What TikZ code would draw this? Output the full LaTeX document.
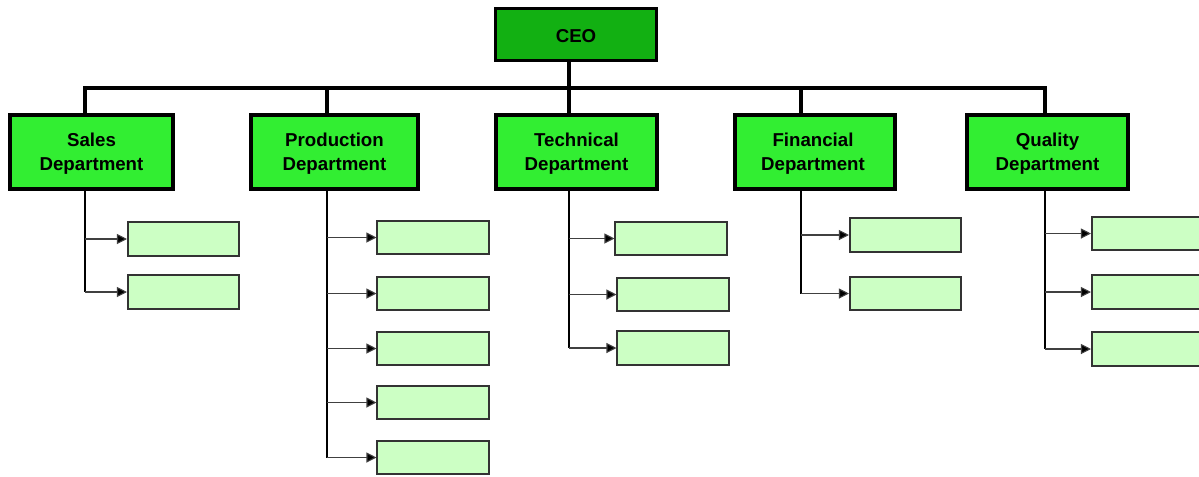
\documentclass[tikz,border=0pt]{standalone}
\usepackage{fontspec}
\setmainfont{Liberation Sans}
\usetikzlibrary{arrows.meta}
\definecolor{ceofill}{RGB}{18,176,18}
\definecolor{depfill}{RGB}{50,238,50}
\definecolor{subfill}{RGB}{204,255,196}
\begin{document}
\begin{tikzpicture}[x=0.75pt,y=-0.75pt,
  ceobox/.style={draw=black,line width=2.6pt,fill=ceofill,minimum width=121pt,minimum height=39pt,inner sep=0pt,font=\bfseries\fontsize{14}{17}\selectfont},
  depbox/.style={draw=black,line width=2.8pt,fill=depfill,minimum height=56pt,inner sep=0pt,align=center,font=\bfseries\fontsize{14}{18}\selectfont},
  deptext/.style={inner sep=0pt,align=center,font=\bfseries\fontsize{14}{18}\selectfont},
  subbox/.style={draw=black!80,line width=1.3pt,fill=subfill,minimum width=83.5pt,minimum height=25pt,inner sep=0pt},
  bus/.style={line width=2.4pt,black},
  trunk/.style={line width=1.6pt,black},
  arr/.style={line width=0.8pt,black!75,-{Triangle[length=7.5pt,width=7.5pt,fill=black]}}]
\clip (0,0) rectangle (1199,476);
\fill[white] (0,0) rectangle (1199,476);
% nodes
\node[ceobox] (ceo) at (576,34.5) {};
\node[font=\bfseries\fontsize{14}{17}\selectfont] (ceot) at (576,36) {CEO};
\node[depbox,minimum width=122pt] (sales) at (91.5,152) {};
\node[depbox,minimum width=125pt] (prod) at (334.5,152) {};
\node[depbox,minimum width=121pt] (tech) at (576.5,152) {};
\node[depbox,minimum width=120pt] (fin) at (815,152) {};
\node[depbox,minimum width=121pt] (qual) at (1047.5,152) {};
\node[deptext] (salest) at (91.5,154) {Sales\\Department};
\node[deptext] (prodt) at (334.5,154) {Production\\Department};
\node[deptext] (techt) at (576.5,154) {Technical\\Department};
\node[deptext] (fint) at (813,154) {Financial\\Department};
\node[deptext] (qualt) at (1047.5,154) {Quality\\Department};
% sub boxes
\node[subbox] (s1) at (183.5,239) {};
\node[subbox] (s2) at (183.5,292) {};
\node[subbox] (p1) at (433,237.5) {};
\node[subbox] (p2) at (433,293.5) {};
\node[subbox] (p3) at (433,348.5) {};
\node[subbox] (p4) at (433,402.5) {};
\node[subbox] (p5) at (433,457.5) {};
\node[subbox] (t1) at (671,238.5) {};
\node[subbox] (t2) at (673,294.5) {};
\node[subbox] (t3) at (673,348) {};
\node[subbox] (f1) at (905.5,235) {};
\node[subbox] (f2) at (905.5,293.5) {};
\node[subbox] (q1) at (1147.5,233.5) {};
\node[subbox] (q2) at (1147.5,292) {};
\node[subbox] (q3) at (1147.5,349) {};
% bus
\coordinate (jc) at (569,88);
\coordinate (jS) at (85,88);
\coordinate (jP) at (327,88);
\coordinate (jT) at (569,88);
\coordinate (jF) at (801,88);
\coordinate (jQ) at (1045,88);
\draw[bus] (ceo.south -| jc) -- (jc);
\draw[bus] (jS |- sales.north) -- (jS) -- (jQ) -- (jQ |- qual.north);
\draw[bus] (jP) -- (jP |- prod.north);
\draw[bus] (jT) -- (jT |- tech.north);
\draw[bus] (jF) -- (jF |- fin.north);
% trunks
\draw[trunk] (jS |- sales.south) -- (jS |- s2.west);
\draw[trunk] (jP |- prod.south) -- (jP |- p5.west);
\draw[trunk] (jT |- tech.south) -- (jT |- t3.west);
\draw[trunk] (jF |- fin.south) -- (jF |- f2.west);
\draw[trunk] (jQ |- qual.south) -- (jQ |- q3.west);
% arrows
\foreach \j/\b in {jS/s1,jS/s2,jP/p1,jP/p2,jP/p3,jP/p4,jP/p5,jT/t1,jT/t2,jT/t3,jF/f1,jF/f2,jQ/q1,jQ/q2,jQ/q3}
  \draw[arr] (\j |- \b.west) -- (\b.west);
\end{tikzpicture}
\end{document}
